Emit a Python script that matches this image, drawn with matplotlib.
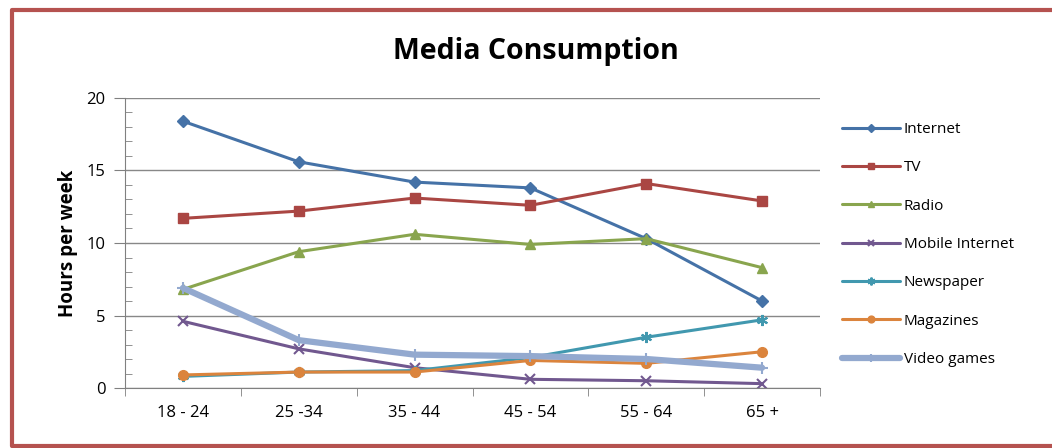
import matplotlib.pyplot as plt
from matplotlib.lines import Line2D
from matplotlib.ticker import MultipleLocator, FixedLocator, NullFormatter

plt.rcParams['font.family'] = ['Open Sans', 'DejaVu Sans']

age_groups = ["18 - 24", "25 -34", "35 - 44", "45 - 54", "55 - 64", "65 +"]
internet = [18.4, 15.6, 14.2, 13.8, 10.3, 6.0]
tv = [11.7, 12.2, 13.1, 12.6, 14.1, 12.9]
radio = [6.8, 9.4, 10.6, 9.9, 10.3, 8.3]
mobile_internet = [4.6, 2.7, 1.4, 0.6, 0.5, 0.3]
newspaper = [0.8, 1.1, 1.2, 2.1, 3.5, 4.7]
magazines = [0.9, 1.1, 1.1, 1.9, 1.7, 2.5]
video_games = [6.9, 3.3, 2.3, 2.2, 2.0, 1.4]

series = [
    ("Internet", internet, "#4572A7", "D", 6, 2.2),
    ("TV", tv, "#AA4643", "s", 7, 2.2),
    ("Radio", radio, "#89A54E", "^", 7, 2.2),
    ("Mobile Internet", mobile_internet, "#71588F", "x", 7, 2.2),
    ("Newspaper", newspaper, "#4198AF", (6, 2, 0), 8, 2.2),
    ("Magazines", magazines, "#DB843D", "o", 7, 2.2),
    ("Video games", video_games, "#93A9CF", "+", 9, 4.5),
]

fig = plt.figure(figsize=(10.52, 4.48), dpi=100)
fig.patch.set_facecolor("white")

# outer chart frame (left, top and bottom edges; right edge runs off the canvas)
W, H = 1052, 448
frame = Line2D([1060 / W, 12 / W, 12 / W, 1060 / W],
               [1 - 10 / H, 1 - 10 / H, 1 - 446 / H, 1 - 446 / H],
               transform=fig.transFigure, color="#B5524F", linewidth=3)
fig.lines.append(frame)

ax = fig.add_axes([125 / W, 60 / H, 695 / W, 290 / H])
x = list(range(len(age_groups)))
for name, vals, color, marker, ms, lw in series:
    mew = 1.5 if marker in ("x", "+") or isinstance(marker, tuple) else 1
    ax.plot(x, vals, color=color, marker=marker, markersize=ms, linewidth=lw,
            markeredgewidth=mew, label=name, solid_capstyle="round")

ax.set_xlim(-0.5, len(age_groups) - 0.5)
ax.set_ylim(0, 20)
ax.yaxis.set_major_locator(MultipleLocator(5))
ax.yaxis.set_minor_locator(MultipleLocator(1))
ax.yaxis.set_minor_formatter(NullFormatter())
ax.set_xticks(x)
ax.set_xticklabels(age_groups, fontsize=12)
ax.xaxis.set_minor_locator(FixedLocator([i - 0.5 for i in range(len(age_groups) + 1)]))
ax.tick_params(axis="x", which="major", length=0, pad=12)
ax.tick_params(axis="x", which="minor", length=6, direction="out", color="#808080")
ax.tick_params(axis="y", which="major", length=8, direction="out", color="#808080",
               labelsize=12, pad=6)
ax.tick_params(axis="y", which="minor", length=5, direction="in", color="#808080")
ax.grid(axis="y", which="major", color="#888888", linewidth=1)
ax.set_axisbelow(True)
for side in ("top", "right"):
    ax.spines[side].set_visible(False)
for side in ("left", "bottom"):
    ax.spines[side].set_color("#808080")

ax.set_ylabel("Hours per week", fontsize=13.5, fontweight="bold", labelpad=6)
fig.text(536 / W, 1 - 52 / H, "Media Consumption", ha="center", va="center",
         fontsize=20.5, fontweight="bold")

ax.legend(loc="upper left", bbox_to_anchor=(1.012, 0.965), frameon=False,
          fontsize=11, labelspacing=1.53, handlelength=3.8, handletextpad=0.25,
          markerscale=0.7)

fig.savefig("out.png", dpi=100)
